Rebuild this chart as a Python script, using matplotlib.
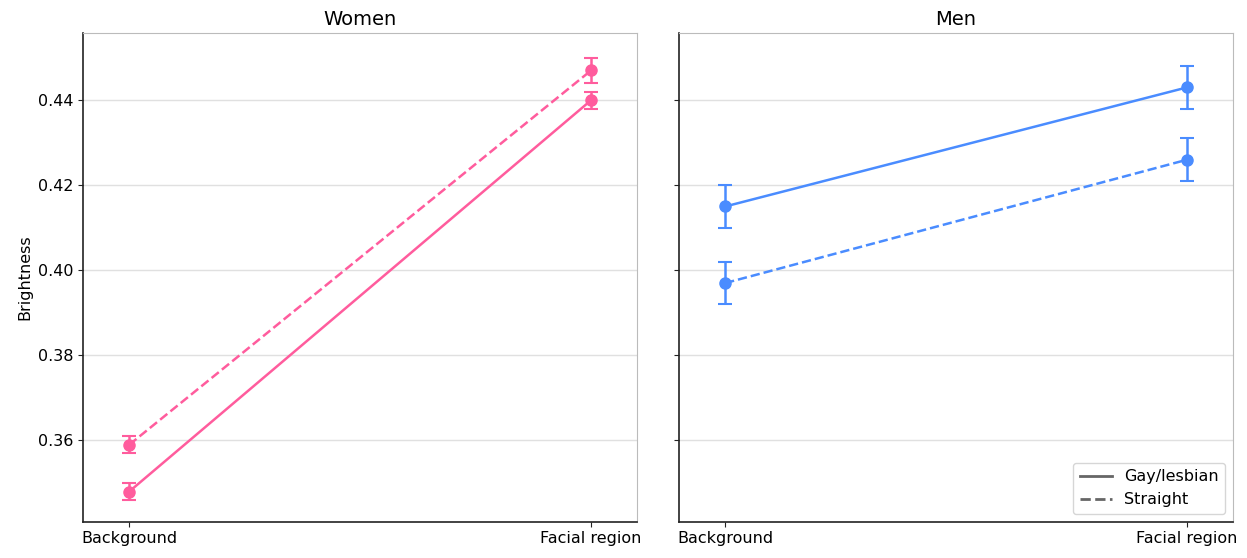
import matplotlib.pyplot as plt
import numpy as np

regions = ["Background", "Facial region"]
groups = ["Gay/lesbian", "Straight"]

women_gay = [0.348, 0.440]
women_gay_err = [0.002, 0.002]
women_straight = [0.359, 0.447]
women_straight_err = [0.002, 0.003]

men_gay = [0.415, 0.443]
men_gay_err = [0.005, 0.005]
men_straight = [0.397, 0.426]
men_straight_err = [0.005, 0.005]

pink = "#ff5c9d"
blue = "#4a8cff"

fig, axes = plt.subplots(1, 2, figsize=(12.47, 5.58), dpi=100, sharey=True)
x = np.arange(len(regions))

panels = [
    ("Women", pink, women_gay, women_gay_err, women_straight, women_straight_err),
    ("Men", blue, men_gay, men_gay_err, men_straight, men_straight_err),
]

for ax, (title, col, g, ge, s, se) in zip(axes, panels):
    ax.errorbar(x, g, yerr=ge, color=col, ls="-", marker="o", ms=8,
                capsize=5, lw=1.8, elinewidth=1.8, capthick=1.5)
    ax.errorbar(x, s, yerr=se, color=col, ls="--", marker="o", ms=8,
                capsize=5, lw=1.8, elinewidth=1.8, capthick=1.5)
    ax.set_title(title, fontsize=14)
    ax.set_xticks(x)
    ax.set_xticklabels(regions, fontsize=11.5)
    ax.set_xlim(-0.1, 1.1)
    ax.set_yticks([0.36, 0.38, 0.40, 0.42, 0.44])
    ax.grid(axis="y", color="#e0e0e0", lw=1)
    ax.set_axisbelow(True)
    for side in ["top", "right"]:
        ax.spines[side].set_color("#bbbbbb")
    for side in ["left", "bottom"]:
        ax.spines[side].set_color("#222222")
        ax.spines[side].set_linewidth(1.2)
    ax.tick_params(labelsize=11.5, color="#222222")

axes[0].set_ylim(0.3409, 0.4558)
axes[0].set_ylabel("Brightness", fontsize=11.5)

handles = [plt.Line2D([], [], color="#666666", ls="-", lw=2),
           plt.Line2D([], [], color="#666666", ls="--", lw=2)]
axes[1].legend(handles, groups, loc="lower right", fontsize=11.5)

plt.subplots_adjust(left=0.0666, right=0.989, top=0.941, bottom=0.065, wspace=0.075)
plt.savefig("out.png")
